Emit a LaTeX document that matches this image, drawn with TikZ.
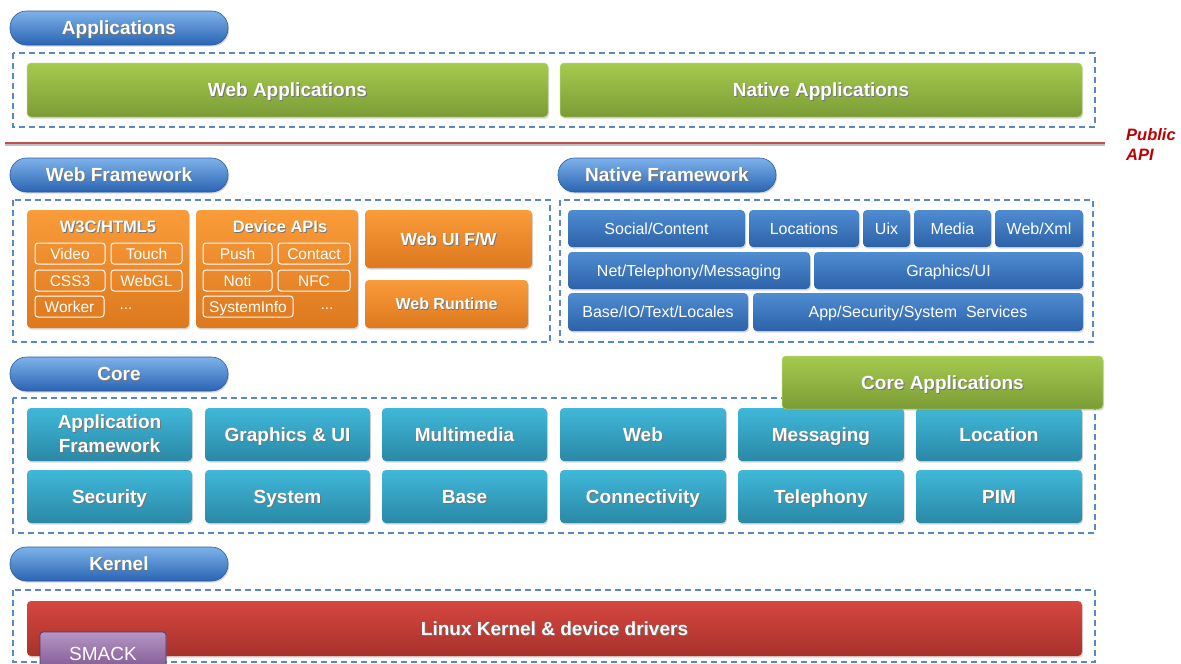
\documentclass[tikz,border=0pt]{standalone}
\usepackage{fontspec}
\usepackage{graphicx}
\setmainfont{Liberation Sans}
\usetikzlibrary{shadows}

\definecolor{dashblue}{HTML}{5A87C6}
\definecolor{pilltop}{HTML}{7DB2EA}
\definecolor{pillbot}{HTML}{2A64B2}
\definecolor{pillline}{HTML}{2B5C9E}
\definecolor{greentop}{HTML}{A5CA4E}
\definecolor{greenbot}{HTML}{7B9C36}
\definecolor{orangetop}{HTML}{FA9C3A}
\definecolor{orangebot}{HTML}{DD781E}
\definecolor{navytop}{HTML}{4F8CD2}
\definecolor{navybot}{HTML}{2C62A8}
\definecolor{tealtop}{HTML}{40B8D9}
\definecolor{tealbot}{HTML}{2A88A6}
\definecolor{redtop}{HTML}{D5473F}
\definecolor{redbot}{HTML}{A8312C}
\definecolor{purptop}{HTML}{B596C4}
\definecolor{purpbot}{HTML}{6E4082}
\definecolor{apired}{HTML}{C00000}
\definecolor{apiline}{HTML}{C0504D}

% white label with a soft dark shadow behind it
\newcommand\ts[1]{\leavevmode\rlap{\kern0.9pt\raisebox{-1.1pt}{\textcolor{black!55}{#1}}}#1}

% box from corner (x1,y1) to corner (x2,y2), in pixel units
\newcommand\bx[7]{\node[#1, minimum width={(#5-#3)*1pt}, minimum height={(#6-#4)*1pt}] (#2) at ({(#3+#5)/2},{(#4+#6)/2}) {#7};}

\tikzset{
  box/.style={rectangle, inner sep=0pt, outer sep=0pt, rounded corners=4pt,
    text=white, align=center,
    drop shadow={opacity=0.3, shadow xshift=1pt, shadow yshift=-1.6pt}},
  bigtext/.style={font=\fontsize{19}{21}\selectfont\bfseries, text height=13.6pt, text depth=0pt},
  pill/.style={box, bigtext, rounded corners=16.5pt, draw=pillline, line width=0.6pt,
    top color=pilltop, bottom color=pillbot},
  greenbox/.style={box, bigtext, top color=greentop, bottom color=greenbot,
    draw=greentop!80!white, line width=0.5pt},
  orangebox/.style={box, top color=orangetop, bottom color=orangebot},
  chip/.style={rectangle, inner sep=0pt, rounded corners=3pt, draw=white,
    line width=1pt, text=white, font=\fontsize{15.5}{17}\selectfont,
    text height=11.1pt, text depth=0pt},
  navybox/.style={box, top color=navytop, bottom color=navybot,
    font=\fontsize{16}{18}\selectfont, text height=11.5pt, text depth=0pt},
  tealbox/.style={box, bigtext, top color=tealtop, bottom color=tealbot},
  redbox/.style={box, bigtext, top color=redtop, bottom color=redbot},
  purplebox/.style={box, rounded corners=3pt, top color=purptop, bottom color=purpbot,
    draw=purpbot!80!black, line width=0.8pt},
  layer/.style={draw=dashblue, line width=1.8pt, dash pattern=on 6pt off 4pt},
  plain/.style={inner sep=0pt, text=white},
}

\begin{document}
\begin{tikzpicture}[x=1pt, y=-1pt]
\useasboundingbox (0,0) rectangle (1181,664);
\clip (0,0) rectangle (1181,664);
\fill[white] (0,0) rectangle (1181,664);

% ---------------- Applications ----------------
\bx{pill}{apps}{10}{11}{228}{45}{\ts{Applications}}
\draw[layer] (13,53) rectangle (1095,127);
\bx{greenbox}{webapps}{27}{63}{548}{117}{\ts{Web Applications}}
\bx{greenbox}{nativeapps}{560}{63}{1082}{117}{\ts{Native Applications}}

% public API boundary
\coordinate (apiL) at (5,143);
\coordinate (apiR) at (1105,143);
\draw[black!25, line width=2pt] ([yshift=-2pt]apiL) -- ([yshift=-2pt]apiR);
\draw[apiline, line width=2.8pt] (apiL) -- (apiR);
\node[anchor=north west, inner sep=0pt, align=left, text=apired,
  font=\fontsize{16.5}{20}\selectfont\bfseries\itshape] (api) at (1126,128) {Public\\API};

% ---------------- Web Framework ----------------
\bx{pill}{webfw}{10}{158}{228}{192}{\ts{Web Framework}}
\draw[layer] (13,200) rectangle (550,342);

\bx{orangebox}{w3c}{27}{210}{189}{328}{}
\node[plain, font=\fontsize{16.5}{18}\selectfont\bfseries] (w3ct) at (108,227) {\ts{W3C/HTML5}};
\bx{chip}{video}{35}{243}{105}{264}{Video}
\bx{chip}{touch}{111}{243}{182}{264}{Touch}
\bx{chip}{css}{35}{270}{105}{291}{CSS3}
\bx{chip}{webgl}{111}{270}{182}{291}{WebGL}
\bx{chip}{worker}{35}{296}{104}{317}{Worker}
\node[plain, font=\fontsize{15.5}{17}\selectfont] (w3cmore) at (126,309) {...};

\bx{orangebox}{devapi}{196}{210}{358}{328}{}
\node[plain, font=\fontsize{16.5}{18}\selectfont\bfseries] (devt) at (280,227) {\ts{Device APIs}};
\bx{chip}{push}{203}{243}{272}{264}{Push}
\bx{chip}{contact}{278}{243}{350}{264}{Contact}
\bx{chip}{noti}{203}{270}{272}{291}{Noti}
\bx{chip}{nfc}{278}{270}{350}{291}{NFC}
\bx{chip}{sysinfo}{203}{296}{293}{317}{SystemInfo}
\node[plain, font=\fontsize{15.5}{17}\selectfont] (devmore) at (327,309) {...};

\bx{orangebox, font=\fontsize{17.5}{19}\selectfont\bfseries, text height=12.5pt, text depth=0pt}{webui}{365}{210}{532}{268}{\ts{Web UI F/W}}
\bx{orangebox, font=\fontsize{16}{18}\selectfont\bfseries, text height=11.5pt, text depth=0pt}{webrt}{365}{280}{528}{328}{\ts{Web Runtime}}

% ---------------- Native Framework ----------------
\bx{pill}{natfw}{558}{158}{776}{192}{\ts{Native Framework}}
\draw[layer] (560,200) rectangle (1093,342);
\bx{navybox}{social}{568}{210}{745}{247}{Social/Content}
\bx{navybox}{locs}{749}{210}{859}{247}{Locations}
\bx{navybox}{uix}{863}{210}{910}{247}{Uix}
\bx{navybox}{media}{914}{210}{991}{247}{Media}
\bx{navybox}{webxml}{995}{210}{1083}{247}{Web/Xml}
\bx{navybox}{net}{568}{252}{810}{289}{Net/Telephony/Messaging}
\bx{navybox}{gfx}{814}{252}{1083}{289}{Graphics/UI}
\bx{navybox}{baseio}{568}{293}{748}{331}{Base/IO/Text/Locales}
\bx{navybox}{appsec}{753}{293}{1083}{331}{App/Security/System\ \ Services}

% ---------------- Core ----------------
\bx{pill}{core}{10}{357}{228}{391}{\ts{Core}}
\bx{tealbox, text height=, text depth=}{appfw}{27}{408}{192}{461}{\ts{Application}\\[3pt]\ts{Framework}}
\bx{tealbox}{graphics}{205}{408}{370}{461}{\ts{Graphics \& UI}}
\bx{tealbox}{multimedia}{382}{408}{547}{461}{\ts{Multimedia}}
\bx{tealbox}{web}{560}{408}{726}{461}{\ts{Web}}
\bx{tealbox}{messaging}{738}{408}{904}{461}{\ts{Messaging}}
\bx{tealbox}{location}{916}{408}{1082}{461}{\ts{Location}}
\bx{tealbox}{security}{27}{470}{192}{523}{\ts{Security}}
\bx{tealbox}{system}{205}{470}{370}{523}{\ts{System}}
\bx{tealbox}{base}{382}{470}{547}{523}{\ts{Base}}
\bx{tealbox}{connectivity}{560}{470}{726}{523}{\ts{Connectivity}}
\bx{tealbox}{telephony}{738}{470}{904}{523}{\ts{Telephony}}
\bx{tealbox}{pim}{916}{470}{1082}{523}{\ts{PIM}}
\draw[layer] (13,398) rectangle (1095,533);
\bx{greenbox}{coreapps}{782}{356}{1103}{409}{\ts{Core Applications}}

% ---------------- Kernel ----------------
\bx{pill}{kernel}{10}{547}{228}{581}{\ts{Kernel}}
\draw[layer] (13,590) rectangle (1095,662);
\bx{redbox}{linux}{27}{601}{1082}{656}{\ts{Linux Kernel \& device drivers}}
\bx{purplebox}{smack}{40}{632}{166}{684}{}
\node[anchor=north, inner sep=0pt, text=white, font=\fontsize{19}{21}\selectfont] (smackt) at (103,647) {SMACK};
\end{tikzpicture}
\end{document}
